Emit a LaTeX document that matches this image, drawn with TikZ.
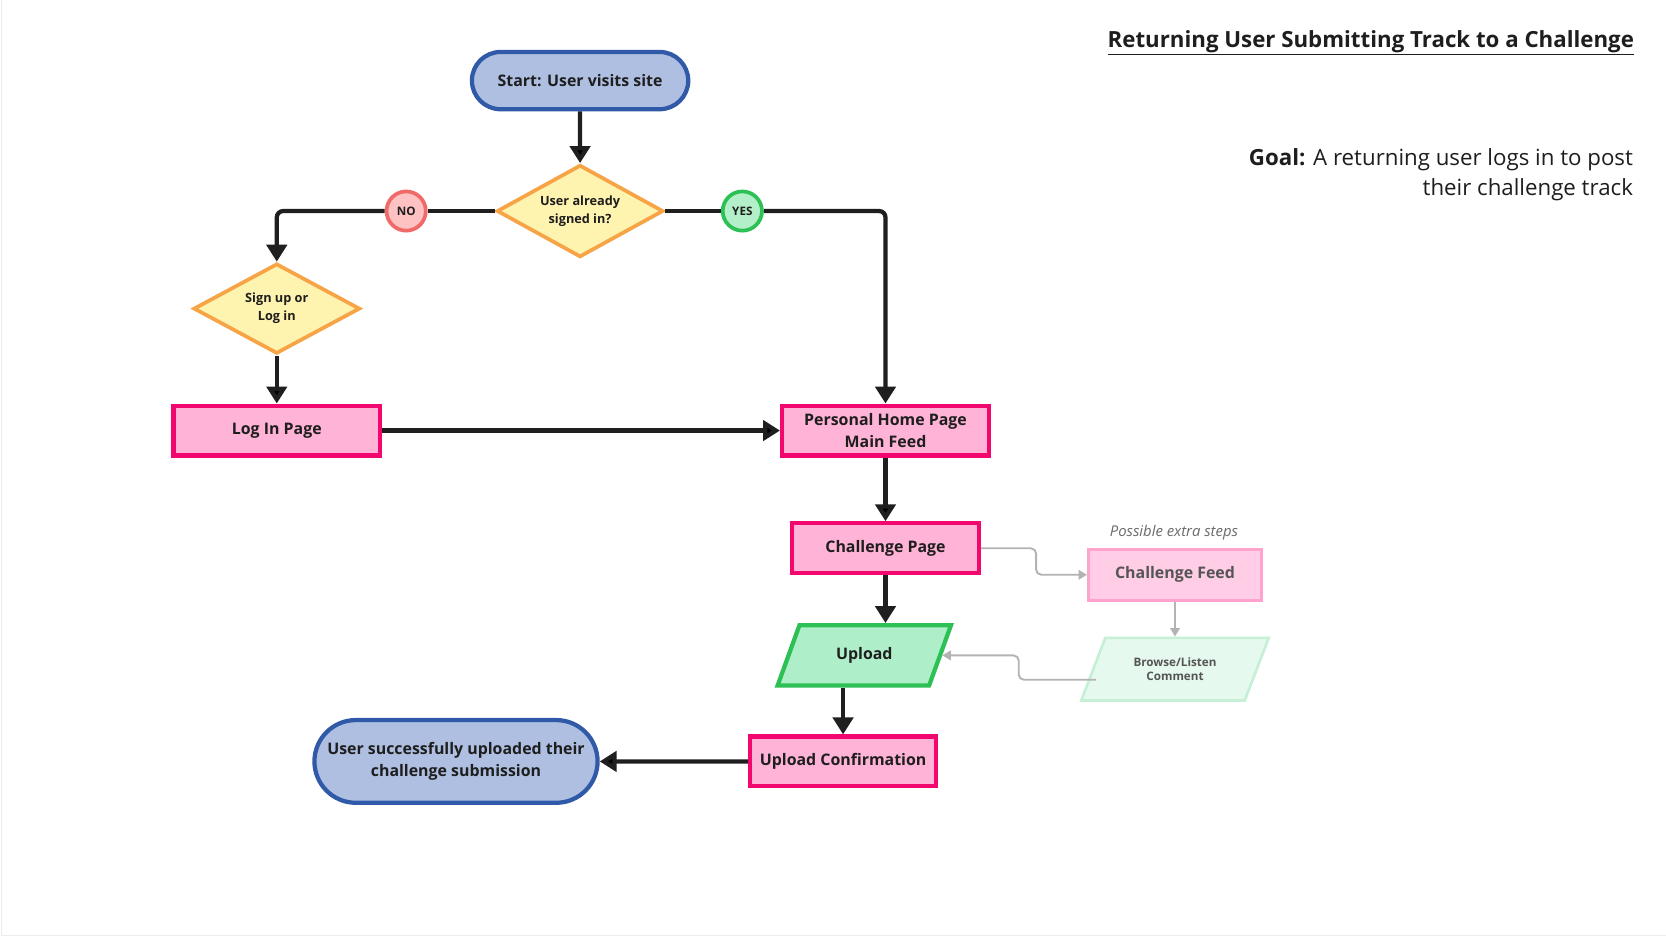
\documentclass[tikz,border=0pt]{standalone}
\usepackage{fontspec}
\setmainfont{Open Sans}
\usepackage{tikz}
\usetikzlibrary{arrows.meta,shapes.geometric,shapes.misc}
\definecolor{txt}{HTML}{1E1E1E}
\definecolor{termfill}{HTML}{AEBFE1}
\definecolor{termline}{HTML}{3059A8}
\definecolor{decfill}{HTML}{FFF3B0}
\definecolor{decline}{HTML}{F7A447}
\definecolor{pagefill}{HTML}{FFB3D6}
\definecolor{pageline}{HTML}{F2076F}
\definecolor{iofill}{HTML}{AEEFC9}
\definecolor{ioline}{HTML}{2DC055}
\definecolor{nofill}{HTML}{FFC2C2}
\definecolor{noline}{HTML}{F06A6A}
\definecolor{yesfill}{HTML}{B3EFC8}
\definecolor{feedfill}{HTML}{FFCDE5}
\definecolor{feedline}{HTML}{FFA3CE}
\definecolor{browsefill}{HTML}{E6F9EE}
\definecolor{browseline}{HTML}{C6F0D6}
\definecolor{ghost}{HTML}{555555}
\definecolor{note}{HTML}{6A6A6A}
\definecolor{arrline}{HTML}{1F1F1F}
\definecolor{garrline}{HTML}{B3B3B3}
\definecolor{frame}{HTML}{ECECEC}

\begin{document}
\begin{tikzpicture}[x=1pt,y=-1pt,
		base/.style={font=\fontsize{15}{21}\selectfont\bfseries, text=txt, align=center, inner sep=0pt},
		term/.style={base, rounded rectangle, draw=termline, fill=termfill, line width=4pt},
		dec/.style={base, diamond, aspect=1.8, draw=decline, fill=decfill, line width=3.5pt, font=\fontsize{12}{17}\selectfont\bfseries},
		page/.style={base, rectangle, draw=pageline, fill=pagefill, line width=4pt, minimum height=47pt},
		io/.style={base, trapezium, trapezium left angle=59, trapezium right angle=121, trapezium stretches, minimum height=57pt, line width=4pt},
		ans/.style={base, circle, minimum size=37pt, line width=3.5pt, font=\fontsize{11}{13}\selectfont\bfseries},
		line/.style={line width=4pt, draw=arrline},
		arr/.style={line, -{Triangle[length=16pt,width=19pt]}},
		garr/.style={line width=1.8pt, draw=garrline, -{Triangle[length=8pt,width=9pt]}}
	]
		\useasboundingbox (0,0) rectangle (1571,884);
		\fill[white] (0,0) rectangle (1571,884);
		\draw[frame, line width=1pt] (1,0) -- (1,882) -- (1571,882);
		
		\node[anchor=east, inner sep=0pt, font=\fontsize{21}{25}\selectfont\bfseries, text=txt] (title) at (1541,40) {\underline{Returning User Submitting Track to a Challenge}};
		\node[anchor=north east, inner sep=0pt, align=right, font=\fontsize{21}{28}\selectfont, text=txt] (goal) at (1540,140) {\textbf{Goal:} A returning user logs in to post\\their challenge track};
		
		\node[term, minimum width=204pt, minimum height=54pt] (start) at (547,76) {Start: User visits site};
		\node[dec, minimum width=157pt, minimum height=87pt] (signed) at (547,199) {User already\\signed in?};
		\node[ans, draw=noline, fill=nofill] (no) at (383,199) {NO};
		\node[ans, draw=ioline, fill=yesfill] (yes) at (700,199) {YES};
		\node[dec, minimum width=157pt, minimum height=85pt] (signup) at (261,291) {Sign up or\\Log in};
		\node[page, minimum width=195pt] (login) at (261,406) {Log In Page};
		\node[page, minimum width=195pt] (home) at (835,406) {Personal Home Page\\Main Feed};
		\node[page, minimum width=176pt] (chpage) at (835,517) {Challenge Page};
		\node[io, draw=ioline, fill=iofill, minimum width=164pt] (upload) at (815,618) {Upload};
		\node[page, minimum width=175pt] (confirm) at (795,718) {Upload Confirmation};
		\node[term, minimum width=267pt, minimum height=78pt] (done) at (430,718) {User successfully uploaded their\\challenge submission};
		
		\node[font=\fontsize{14}{16}\selectfont\itshape, text=note] (extra) at (1107,502) {Possible extra steps};
		\node[page, draw=feedline, fill=feedfill, text=ghost, line width=3pt, minimum width=163pt, minimum height=48pt] (feed) at (1108,542) {Challenge Feed};
		\node[io, draw=browseline, fill=browsefill, text=ghost, line width=2.5pt, minimum width=177pt, minimum height=59pt, font=\fontsize{11}{14}\selectfont\bfseries] (browse) at (1108,631) {Browse/Listen\\Comment};
		
		\path[arr]
		(start) edge (signed)
		(signup) edge (login)
		(login) edge (home)
		(home) edge (chpage)
		(confirm) edge (done)
		;
		\draw[arr] (chpage.south) -- (chpage.south |- upload.north);
		\draw[arr] (upload.south -| confirm.north) -- (confirm.north);
		\draw[line] (signed) -- (no);
		\draw[arr, rounded corners=6pt] (no) -| (signup);
		\draw[line] (signed) -- (yes);
		\draw[arr, rounded corners=6pt] (yes) -| (home);
		
		\draw[garr, rounded corners=5pt] (chpage.east) -- ++(52,0) |- (feed);
		\draw[garr] (feed) -- (browse);
		\draw[garr, rounded corners=5pt] ([shift={(4,10)}]browse.west) -- ++(-73,0) |- (upload);
	\end{tikzpicture}
\end{document}
